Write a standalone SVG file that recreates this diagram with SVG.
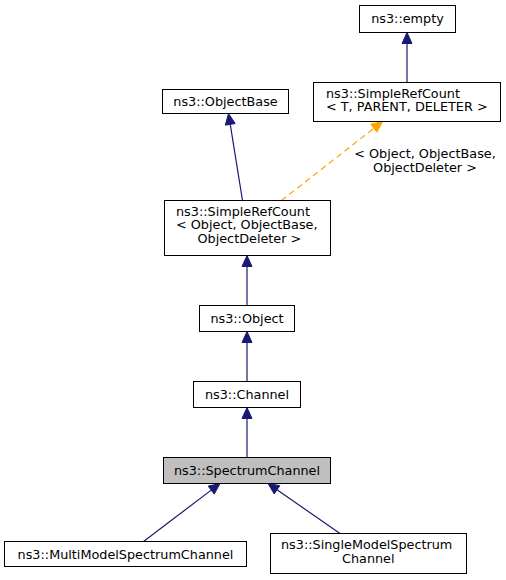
<svg xmlns="http://www.w3.org/2000/svg" width="506" height="580" viewBox="0 0 506 580">
<style>
.box{fill:#ffffff;stroke:#000000;stroke-width:1}
.hl{fill:#bfbfbf;stroke:#000000;stroke-width:1}
text{font-family:"DejaVu Sans","Noto Sans",sans-serif;font-size:12.8px;fill:#000000}
.c{text-anchor:middle}
.e{fill:none;stroke:#191970;stroke-width:1.2}
.h{fill:#191970;stroke:#191970;stroke-width:1}
.d{fill:none;stroke:#ffa500;stroke-width:1.2;stroke-dasharray:6,4}
.dh{fill:#ffa500;stroke:#ffa500;stroke-width:1}
</style>
<rect width="506" height="580" fill="#ffffff"/>
<g id="connectors">
<line class="e" x1="407" y1="82.5" x2="407" y2="43.5"/>
<polygon class="h" points="407,32.5 402,43.5 412,43.5"/>
<line class="e" x1="242.5" y1="200.5" x2="230.25" y2="124.36"/>
<polygon class="h" points="228.5,113.5 235.19,123.57 225.31,125.15"/>
<line class="d" x1="281.5" y1="200.5" x2="373.84" y2="128.28"/>
<polygon class="dh" points="382.5,121.5 376.92,132.22 370.76,124.34"/>
<text class="c" x="425" y="158">&lt; Object, ObjectBase,<tspan x="425" dy="13.5">ObjectDeleter &gt;</tspan></text>
<line class="e" x1="247" y1="305.5" x2="247" y2="266.5"/>
<polygon class="h" points="247,255.5 242,266.5 252,266.5"/>
<line class="e" x1="247" y1="381.5" x2="247" y2="342.5"/>
<polygon class="h" points="247,331.5 242,342.5 252,342.5"/>
<line class="e" x1="247" y1="457.5" x2="247" y2="418.5"/>
<polygon class="h" points="247,407.5 242,418.5 252,418.5"/>
<line class="e" x1="143.5" y1="541.5" x2="211.21" y2="490.11"/>
<polygon class="h" points="220,483.5 214.21,494.11 208.21,486.11"/>
<line class="e" x1="340" y1="533.5" x2="277.04" y2="489.77"/>
<polygon class="h" points="268,483.5 279.89,485.66 274.19,493.88"/>
</g>
<g id="node-empty">
<rect class="box" x="359.5" y="5.5" width="96" height="27"/>
<text class="c" x="407.5" y="23">ns3::empty</text>
</g>
<g id="node-simplerefcount-t">
<rect class="box" x="313.5" y="82.5" width="187" height="39"/>
<text x="326" y="97.5">ns3::SimpleRefCount<tspan x="326" dy="13.5">&lt; T, PARENT, DELETER &gt;</tspan></text>
</g>
<g id="node-objectbase">
<rect class="box" x="162.5" y="89.5" width="126" height="24"/>
<text class="c" x="225.5" y="106">ns3::ObjectBase</text>
</g>
<g id="node-simplerefcount-object">
<rect class="box" x="164.5" y="200.5" width="166" height="55"/>
<text x="176" y="215.5">ns3::SimpleRefCount<tspan x="176" dy="13.5">&lt; Object, ObjectBase,</tspan><tspan x="197.5" dy="13.5">ObjectDeleter &gt;</tspan></text>
</g>
<g id="node-object">
<rect class="box" x="199.5" y="305.5" width="95" height="26"/>
<text class="c" x="247" y="323">ns3::Object</text>
</g>
<g id="node-channel">
<rect class="box" x="193.5" y="381.5" width="107" height="26"/>
<text class="c" x="247" y="399">ns3::Channel</text>
</g>
<g id="node-spectrumchannel">
<rect class="hl" x="163.5" y="457.5" width="167" height="26"/>
<text class="c" x="247" y="475">ns3::SpectrumChannel</text>
</g>
<g id="node-multimodel">
<rect class="box" x="4.5" y="541.5" width="242" height="25"/>
<text class="c" x="125.5" y="558.5">ns3::MultiModelSpectrumChannel</text>
</g>
<g id="node-singlemodel">
<rect class="box" x="270.5" y="533.5" width="196" height="40"/>
<text x="281" y="549">ns3::SingleModelSpectrum<tspan x="342" dy="13.5">Channel</tspan></text>
</g>
</svg>
